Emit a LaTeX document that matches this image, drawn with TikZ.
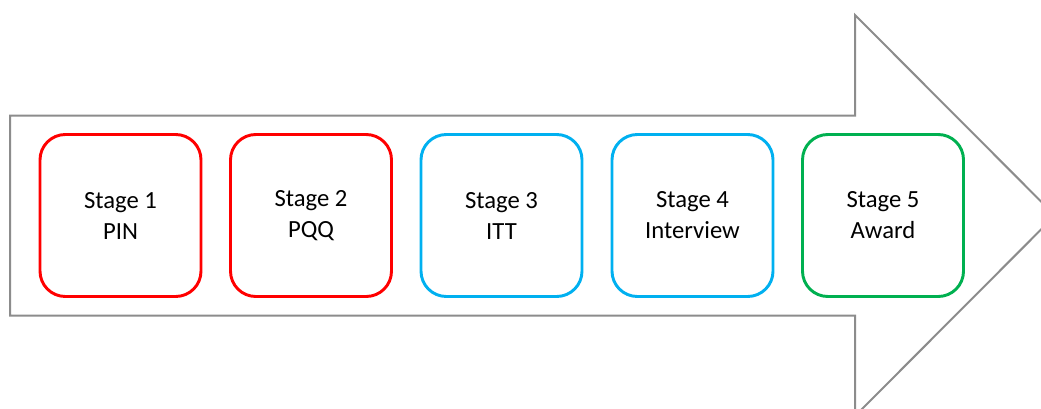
\documentclass[tikz,border=0pt]{standalone}
\usepackage{fontspec}
\setmainfont{Carlito}
\definecolor{outlinegray}{HTML}{8C8C8C}
\definecolor{stagered}{HTML}{FF0000}
\definecolor{stageblue}{HTML}{00B0F0}
\definecolor{stagegreen}{HTML}{00B050}
\begin{document}
\begin{tikzpicture}[x=0.75pt,y=-0.75pt,
  stagebox/.style={draw, line width=2.2pt, rounded corners=19pt, fill=white,
    minimum width=161*0.75pt, minimum height=162*0.75pt, inner sep=0pt,
    align=center, font=\fontsize{18.5}{23.25}\selectfont, text=black}]
  \useasboundingbox (0,0) rectangle (1041,408);
  \begin{scope}
    \clip (0,0) rectangle (1041,408);
    % big process arrow
    \draw[outlinegray, line width=1.5pt, line join=miter, fill=white]
      (10,115.5) -- (855,115.5) -- (855,15) -- (1055,215.5) -- (855,416) --
      (855,315.5) -- (10,315.5) -- cycle;
  \end{scope}
  % stages
  \node[stagebox, draw=stagered]   (s1) at (120.5,215.5) {Stage 1\\PIN};
  \node[stagebox, draw=stagered]   (s2) at (311,215.5)   {Stage 2\\PQQ};
  \node[stagebox, draw=stageblue]  (s3) at (501.5,215.5) {Stage 3\\ITT};
  \node[stagebox, draw=stageblue]  (s4) at (692.5,215.5) {Stage 4\\Interview};
  \node[stagebox, draw=stagegreen] (s5) at (883,215.5)   {Stage 5\\Award};
\end{tikzpicture}
\end{document}
